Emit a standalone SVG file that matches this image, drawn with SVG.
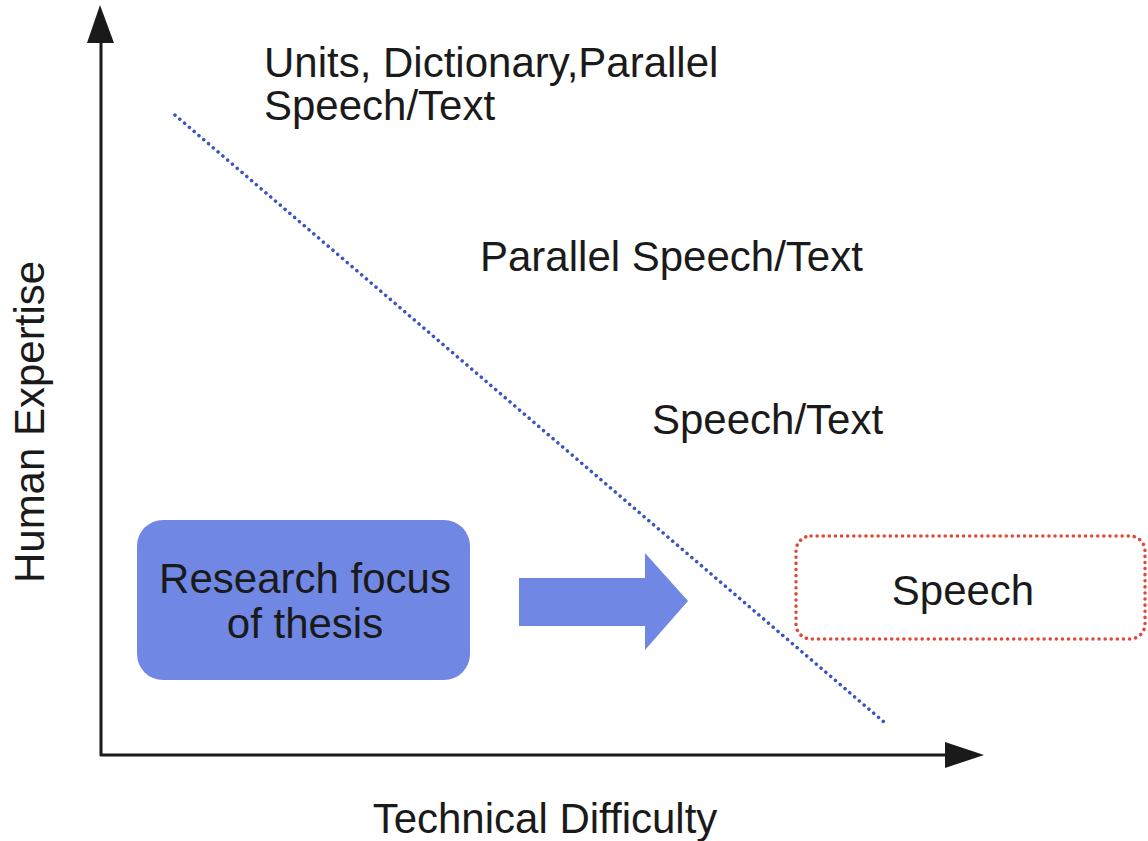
<svg xmlns="http://www.w3.org/2000/svg" width="1148" height="841" viewBox="0 0 1148 841">
<style>
text{font-family:"Liberation Sans",Arial,sans-serif;fill:#1a1a1a;font-size:42px}
.axis{stroke:#1a1a1a;stroke-width:3;fill:none}
</style>
<rect width="1148" height="841" fill="#fff"/>
<g id="axes">
<line class="axis" x1="101" y1="40" x2="101" y2="756"/>
<line class="axis" x1="100" y1="755" x2="946" y2="755"/>
<polygon points="100,5 87,43 114,43" fill="#1a1a1a"/>
<polygon points="984,755 945,742 945,768" fill="#1a1a1a"/>
</g>
<g id="connectors">
<line x1="175" y1="115" x2="884" y2="722" stroke="#3a55c0" stroke-width="3.5" stroke-dasharray="0.1 6.2" stroke-linecap="round"/>
<polygon points="519,578 645,578 645,553 688,601 645,650 645,626 519,626" fill="#7088e4"/>
</g>
<g id="focus">
<rect x="137" y="520" width="333" height="160" rx="26" fill="#7088e4"/>
<text x="305" y="593" text-anchor="middle">Research focus</text>
<text x="305" y="638" text-anchor="middle">of thesis</text>
</g>
<g id="speech">
<rect x="796" y="536" width="349" height="103" rx="15" fill="#fff" stroke="#e04a3a" stroke-width="3.5" stroke-dasharray="0.1 6" stroke-linecap="round"/>
<text x="963" y="605" text-anchor="middle">Speech</text>
</g>
<g id="labels">
<text x="264" y="77">Units, Dictionary,Parallel</text>
<text x="264" y="120">Speech/Text</text>
<text x="480" y="271">Parallel Speech/Text</text>
<text x="652" y="434">Speech/Text</text>
<text x="545" y="833" text-anchor="middle">Technical Difficulty</text>
<text transform="translate(44,422) rotate(-90)" text-anchor="middle">Human Expertise</text>
</g>
</svg>
